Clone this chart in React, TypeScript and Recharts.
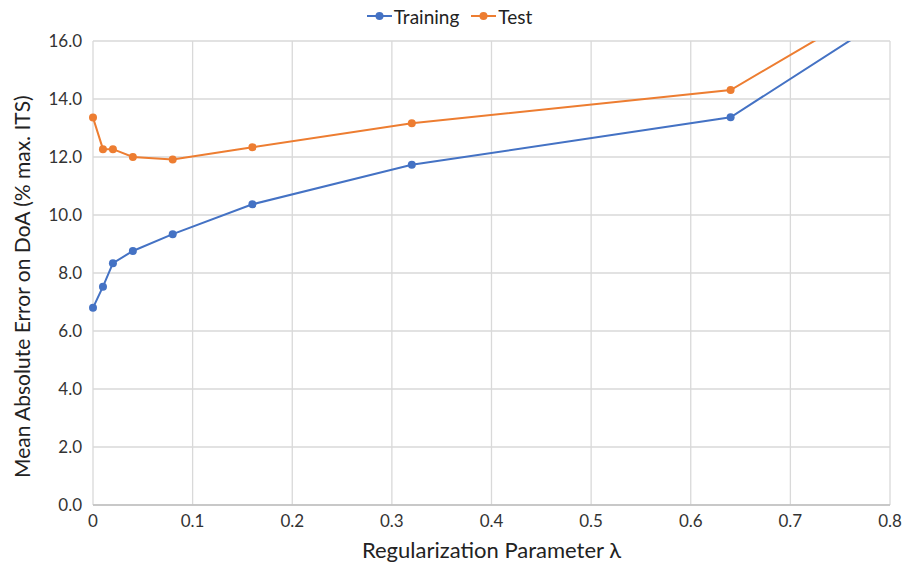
import React from 'react';
import { LineChart, Line, XAxis, YAxis, CartesianGrid, Legend } from 'recharts';

const lambdas = [0, 0.01, 0.02, 0.04, 0.08, 0.16, 0.32, 0.64, 1.28];
const training = [6.8, 7.53, 8.34, 8.76, 9.34, 10.37, 11.73, 13.37, 27.5];
const test = [13.36, 12.27, 12.27, 12.0, 11.91, 12.34, 13.16, 14.31, 27.2];
const xTicks = [0, 0.1, 0.2, 0.3, 0.4, 0.5, 0.6, 0.7, 0.8];
const yTicks = [0, 2, 4, 6, 8, 10, 12, 14, 16];
const seriesOrder = ['Training', 'Test'];

const data = lambdas.map((l, i) => ({ lambda: l, Training: training[i], Test: test[i] }));

const FONT = 'Lato, "Open Sans", sans-serif';

const LegendContent = (props: any) => {
  const payload = [...(props.payload || [])].sort(
    (a: any, b: any) => seriesOrder.indexOf(a.value) - seriesOrder.indexOf(b.value)
  );
  return (
    <div style={{ display: 'flex', justifyContent: 'center', alignItems: 'center', fontFamily: FONT, fontSize: 19, color: '#222', height: 20, paddingLeft: 6 }}>
      {payload.map((p: any) => (
        <div key={p.value} style={{ display: 'flex', alignItems: 'center', marginRight: 12 }}>
          <svg width={25} height={12} style={{ marginRight: 2 }}>
            <line x1={0} y1={6} x2={25} y2={6} stroke={p.color} strokeWidth={2} />
            <circle cx={12.5} cy={6} r={4} fill={p.color} />
          </svg>
          <span>{p.value}</span>
        </div>
      ))}
    </div>
  );
};

export default function App() {
  return (
    <div style={{ position: 'absolute', left: 0, top: 0, width: 905, height: 563, background: '#fff' }}>
      <LineChart width={905} height={563} data={data} margin={{ top: 21, right: 15, bottom: 0, left: 0 }}>
        <CartesianGrid stroke="#d9d9d9" strokeWidth={1.3} horizontalValues={yTicks} verticalValues={xTicks} />
        <XAxis
          dataKey="lambda"
          type="number"
          domain={[0, 0.8]}
          ticks={xTicks}
          allowDataOverflow
          height={58}
          tickSize={0}
          tickMargin={10}
          axisLine={{ stroke: '#bfbfbf', strokeWidth: 1.3 }}
          tickFormatter={(v: number) => (v === 0 ? '0' : String(v))}
          tick={{ fill: '#333', fontSize: 17, fontFamily: FONT }}
          label={{ value: 'Regularization Parameter λ', position: 'insideBottom', offset: 5, fill: '#222', fontSize: 22, fontFamily: FONT }}
        />
        <YAxis
          type="number"
          domain={[0, 16]}
          ticks={yTicks}
          allowDataOverflow
          width={93}
          tickSize={0}
          tickMargin={11}
          axisLine={false}
          tickFormatter={(v: number) => v.toFixed(1)}
          tick={{ fill: '#333', fontSize: 17, fontFamily: FONT }}
          label={{ value: 'Mean Absolute Error on DoA (% max. ITS)', angle: -90, position: 'insideLeft', offset: 23, dy: 205, fill: '#222', fontSize: 21, fontFamily: FONT }}
        />
        <Legend verticalAlign="top" height={20} content={<LegendContent />} wrapperStyle={{ top: 6, left: 0, width: 905 }} />
        <Line dataKey="Training" stroke="#4472C4" strokeWidth={2} dot={{ r: 4, fill: '#4472C4', stroke: '#4472C4', strokeWidth: 0, clipDot: false }} isAnimationActive={false} />
        <Line dataKey="Test" stroke="#ED7D31" strokeWidth={2} dot={{ r: 4, fill: '#ED7D31', stroke: '#ED7D31', strokeWidth: 0, clipDot: false }} isAnimationActive={false} />
      </LineChart>
    </div>
  );
}
